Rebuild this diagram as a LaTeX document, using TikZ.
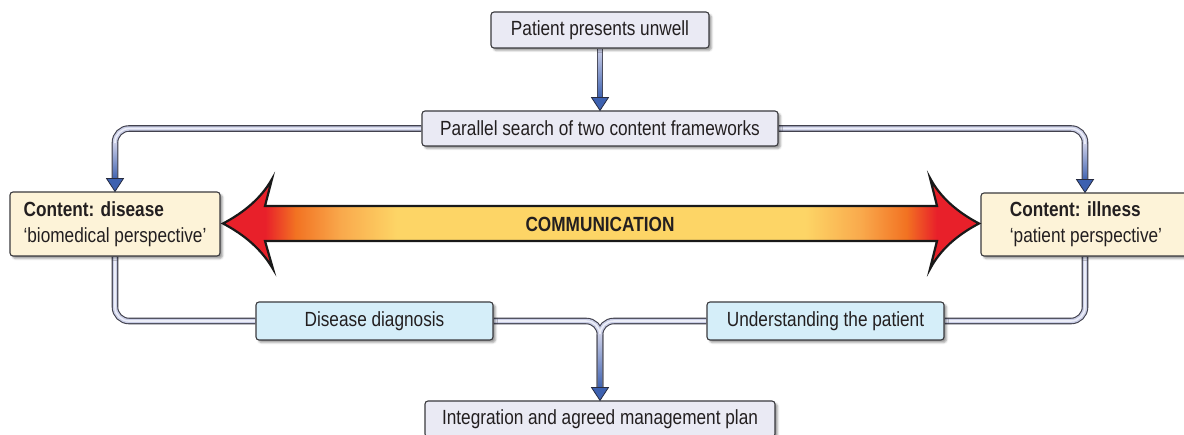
\documentclass[tikz,border=0pt]{standalone}
\usepackage{fontspec}
\setmainfont{Liberation Sans}[FakeStretch=0.84]
\usetikzlibrary{calc,shadows.blur}
\pgfdeclarelayer{bg}
\pgfsetlayers{bg,main}
\definecolor{txt}{HTML}{231F20}
\definecolor{boxline}{HTML}{3A3A3E}
\definecolor{lavfill}{HTML}{EAEAF4}
\definecolor{creamfill}{HTML}{FDF3D8}
\definecolor{bluefill}{HTML}{D5EEF9}
\definecolor{pipeline}{HTML}{42424E}
\definecolor{pipefill}{HTML}{C9CDE6}
\definecolor{pipehl}{HTML}{ECEEF8}
\definecolor{arrowblue}{HTML}{3D61B0}
\definecolor{arrowline}{HTML}{262B40}
\definecolor{cred}{HTML}{E8202A}
\definecolor{corange}{HTML}{F27222}
\definecolor{clorange}{HTML}{F9A94C}
\definecolor{cyellow}{HTML}{FDD566}
\pgfdeclarehorizontalshading{commshade}{100bp}{color(0bp)=(cred); color(27.8bp)=(cred); color(29.8bp)=(corange); color(32.8bp)=(clorange); color(36.5bp)=(cyellow); color(63.5bp)=(cyellow); color(67.2bp)=(clorange); color(70.2bp)=(corange); color(72.2bp)=(cred); color(100bp)=(cred)}
\tikzset{
  box/.style={draw=boxline, line width=1.1pt, rounded corners=3pt, text=txt, inner sep=0pt,
    font=\fontsize{20.5}{26}\selectfont,
    blur shadow={shadow xshift=2.5pt, shadow yshift=-2.5pt, shadow blur radius=2pt}},
  lavbox/.style={box, fill=lavfill},
  creambox/.style={box, fill=creamfill, align=left},
  bluebox/.style={box, fill=bluefill},
  pipeout/.style={line width=6.6pt, draw=pipeline, rounded corners=14pt, shorten >=12pt},
  pipein/.style={line width=4.4pt, draw=pipefill, rounded corners=14pt, shorten >=12pt},
  pipehi/.style={line width=1.6pt, draw=pipehl, rounded corners=14pt, shorten >=12pt},
  ahead/.style={fill=arrowblue, draw=arrowline, line width=0.8pt, line join=miter},
  commarrow/.style={shading=commshade, draw=black!90, line width=2.2pt, line join=miter, miter limit=20},
}
\begin{document}
\begin{tikzpicture}[x=1pt,y=-1pt]
\useasboundingbox (0,0) rectangle (1184,435);
\clip (0,0) rectangle (1184,435);
% nodes
\node[lavbox, minimum width=218, minimum height=36] (patient) at (600,30) {Patient presents unwell};
\node[lavbox, minimum width=356, minimum height=35] (parallel) at (600,128.5) {Parallel search of two content frameworks};
\node[creambox, minimum width=210, minimum height=64] (left) at (115,224)
  {\bfseries Content: disease\\‘biomedical perspective’};
\node[creambox, minimum width=210, minimum height=63] (right) at (1086,224.5)
  {\bfseries Content: illness\\‘patient perspective’};
\node[bluebox, minimum width=237, minimum height=38] (dd) at (374.5,321) {Disease diagnosis};
\node[bluebox, minimum width=237, minimum height=38] (ut) at (825.5,321) {Understanding the patient};
\node[lavbox, minimum width=350, minimum height=36] (integ) at (600,419) {Integration and agreed management plan};
% helper coordinates
\coordinate (rtop) at ($(right.north)+(-1,0)$);
\coordinate (rbot) at ($(right.south)+(-1,0)$);
\coordinate (J) at (integ.north |- dd.east);
\coordinate (Ja) at ($(J)+(-14,0)$);
\coordinate (Jb) at ($(J)+(14,0)$);
\coordinate (Jc) at ($(J)+(0,14)$);
% pipes
\begin{pgfonlayer}{bg}
\foreach \ps in {pipeout,pipein,pipehi}{
  \draw[\ps] (patient.south) -- (parallel.north);
  \draw[\ps] (parallel.west) -| (left.north);
  \draw[\ps] (parallel.east) -| (rtop);
  \draw[\ps,shorten >=0pt] (left.south) |- (dd.west);
  \draw[\ps,shorten >=0pt] (rbot) |- (ut.east);
  \draw[\ps,sharp corners] (dd.east) -- (Ja) .. controls ($(J)+(-6,0)$) and ($(J)+(0,6)$) .. (Jc) -- (integ.north);
  \draw[\ps,sharp corners] (ut.west) -- (Jb) .. controls ($(J)+(6,0)$) and ($(J)+(0,6)$) .. (Jc) -- (integ.north);
}
\shade[top color=pipefill, bottom color=arrowblue] ($(patient.south)+(-2.2,1)$) rectangle ($(parallel.north)+(2.2,-12)$);
\shade[top color=pipefill, bottom color=arrowblue] ($(left.north)+(-2.2,-48)$) rectangle ($(left.north)+(2.2,-12)$);
\shade[top color=pipefill, bottom color=arrowblue] ($(rtop)+(-2.2,-48)$) rectangle ($(rtop)+(2.2,-12)$);
\shade[top color=pipefill, bottom color=arrowblue] ($(Jc)+(-2.2,0)$) rectangle ($(integ.north)+(2.2,-12)$);
\end{pgfonlayer}
% arrowheads
\foreach \p in {parallel.north,left.north,rtop,integ.north}{
  \filldraw[ahead] (\p) -- ++(-8.5,-13) -- ++(17,0) -- cycle;
}
% communication double arrow
\shadedraw[commarrow] (223,223.5) .. controls (245,212) and (262,197) .. (272,179) -- (265,206) -- (937,206) -- (930,178)
  .. controls (940,197) and (957,212) .. (979,223.5) .. controls (957,235) and (940,250) .. (930,269)
  -- (937,241) -- (265,241) -- (273,269) .. controls (262,250) and (245,235) .. (223,223.5) -- cycle;
\node[text=txt, font=\fontsize{20.5}{24}\selectfont\bfseries] (comm) at (600,224) {COMMUNICATION};
\end{tikzpicture}
\end{document}
